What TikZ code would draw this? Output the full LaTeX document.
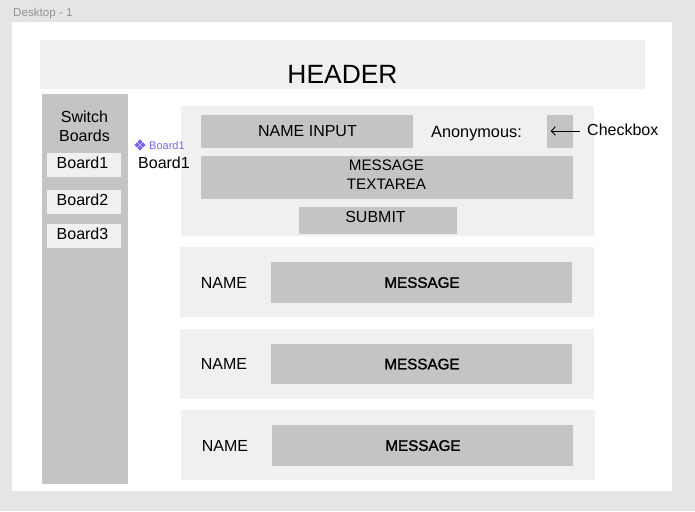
\documentclass[tikz,border=0pt]{standalone}
\usepackage{fontspec}
\setmainfont{Liberation Sans}
\newfontfamily\heavyfont[FakeBold=1.5]{Liberation Sans}
\usetikzlibrary{arrows.meta,shapes.geometric}
\definecolor{canvas}{HTML}{E5E5E5}
\definecolor{panel}{HTML}{F0F0F0}
\definecolor{block}{HTML}{C4C4C4}
\definecolor{purple}{HTML}{7B61FF}
\newcommand{\px}[1]{\fontsize{#1pt}{#1pt}\selectfont}
\tikzset{
  rect/.style={inner sep=0pt,outer sep=0pt,anchor=north west},
  panelbox/.style={rect,fill=panel},
  blockbox/.style={rect,fill=block},
  txt/.style={inner sep=0pt,text=black,font=\px{16},align=center,text depth=0pt},
  bold/.style={txt,font=\heavyfont\px{15.2}},
  icon/.style={diamond,fill=purple,inner sep=0pt,minimum size=5.5pt}
}
\begin{document}
\begin{tikzpicture}[x=1pt,y=-1pt]
\useasboundingbox (0,0) rectangle (695,511);
\fill[canvas] (0,0) rectangle (695,511);
\node[anchor=west,inner sep=0pt,text=black!42,font=\px{11.6}] (title) at (13,14) {Desktop - 1};
\node[rect,fill=white,minimum width=660pt,minimum height=469pt] (frame) at (12,22) {};
% header
\node[panelbox,minimum width=605.5pt,minimum height=49pt] (header) at (39.5,40) {};
\node[txt,font=\px{26.4}] (headertxt) at (342.5,74) {HEADER};
% sidebar
\node[blockbox,minimum width=86pt,minimum height=389.7pt] (side) at (42,94.3) {};
\node[txt,align=center] (switch) at (84.5,126) {Switch\\[3pt]Boards};
\node[panelbox,minimum width=74pt,minimum height=24pt] (b1) at (47,153) {};
\node[panelbox,minimum width=74pt,minimum height=24pt] (b2) at (47,190) {};
\node[panelbox,minimum width=74pt,minimum height=24pt] (b3) at (47,224) {};
\node[txt] (b1t) at (82.5,163) {Board1};
\node[txt] (b2t) at (82.5,200) {Board2};
\node[txt] (b3t) at (82.5,234) {Board3};
% form
\node[panelbox,minimum width=413pt,minimum height=129.7pt] (form) at (181,106) {};
\node[blockbox,minimum width=212pt,minimum height=33pt] (name) at (201,115) {};
\node[txt] at (307.5,131) (namet) {NAME INPUT};
\node[txt,font=\px{16.3}] (anon) at (476.5,131.5) {Anonymous:};
\node[blockbox,minimum width=26pt,minimum height=33pt] (check) at (547.3,115) {};
\node[blockbox,minimum width=372.3pt,minimum height=43pt] (area) at (201,156) {};
\node[txt,font=\px{15.2}] (areat) at (386.5,175) {MESSAGE\\[3.6pt]TEXTAREA};
\node[blockbox,minimum width=158pt,minimum height=26.5pt] (submit) at (299,207) {};
\node[txt] (submitt) at (375.5,217) {SUBMIT};
% instance label
\foreach \n/\dx/\dy in {i1/0/-3,i2/0/3,i3/-3/0,i4/3/0}
  \node[icon] (\n) at (140+\dx,145+\dy) {};
\node[anchor=west,inner sep=0pt,text=purple,font=\px{11}] (inst) at (149,145.5) {Board1};
\node[txt] (inst2) at (164,163) {Board1};
% rows
\node[panelbox,minimum width=414pt,minimum height=70pt] (r1) at (180,247) {};
\node[txt] (n1) at (224,282.5) {NAME};
\node[blockbox,minimum width=301pt,minimum height=41pt] (m1) at (271,262) {};
\node[bold] (m1t) at (422,282.5) {MESSAGE};
\node[panelbox,minimum width=414pt,minimum height=70pt] (r2) at (180,329) {};
\node[txt] (n2) at (224,364) {NAME};
\node[blockbox,minimum width=301pt,minimum height=40pt] (m2) at (271,344) {};
\node[bold] (m2t) at (422,364) {MESSAGE};
\node[panelbox,minimum width=414pt,minimum height=70pt] (r3) at (181,410) {};
\node[txt] (n3) at (225,445.5) {NAME};
\node[blockbox,minimum width=301pt,minimum height=41pt] (m3) at (272,425) {};
\node[bold] (m3t) at (423,445.5) {MESSAGE};
% checkbox callout
\node[txt,anchor=west] (cb) at (587,130) {Checkbox};
\coordinate (cbtail) at (580,131);
\coordinate (cbend) at (550.7,131);
\draw[-{Straight Barb[length=4pt,width=8.5pt]},line width=0.9pt,black] (cbtail) -- (cbend);
\end{tikzpicture}
\end{document}
